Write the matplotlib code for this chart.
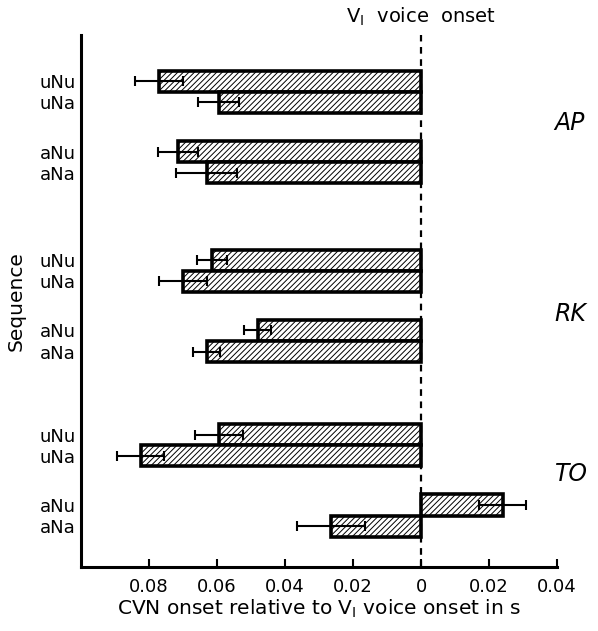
import matplotlib
matplotlib.use("Agg")
import matplotlib.pyplot as plt
import numpy as np

plt.rcParams['font.family'] = ['DejaVu Sans']
plt.rcParams['hatch.linewidth'] = 0.7

speakers = ["AP", "RK", "TO"]
sequences = ["uNu", "uNa", "aNu", "aNa"]
# CVN onset relative to V1 voice onset (s), per speaker, in sequence order
onset = {
    "AP": [-0.077, -0.0595, -0.0715, -0.063],
    "RK": [-0.0615, -0.070, -0.048, -0.063],
    "TO": [-0.0595, -0.0825, 0.024, -0.0265],
}
err = {
    "AP": [0.007, 0.006, 0.006, 0.009],
    "RK": [0.0045, 0.007, 0.004, 0.004],
    "TO": [0.007, 0.007, 0.007, 0.010],
}
xticks = [-0.08, -0.06, -0.04, -0.02, 0, 0.02, 0.04]
xticklabels = ["0.08", "0.06", "0.04", "0.02", "0", "0.02", "0.04"]

fig = plt.figure(figsize=(5.98, 6.31), dpi=100)
ax = fig.add_axes([0.1355, 0.1014, 0.796, 0.843])

group_start = [0.0, 8.5, 16.8]
label_offset = [2.0, 2.55, 1.87]
pair_offset = 3.35
bar_h = 1.0

ypos, ylabels = [], []
for gi, sp in enumerate(speakers):
    g0 = group_start[gi]
    ys = [g0, g0 + 1, g0 + pair_offset, g0 + pair_offset + 1]
    vals = onset[sp]
    ers = err[sp]
    ax.barh(ys, vals, height=bar_h, color="white", edgecolor="black",
            linewidth=2.6, hatch="//////", zorder=2)
    ax.errorbar(vals, ys, xerr=ers, fmt="none", ecolor="black",
                elinewidth=1.5, capsize=3.5, capthick=1.5, zorder=3)
    ypos += ys
    ylabels += sequences
    ax.text(0.995, g0 + label_offset[gi], sp, transform=ax.get_yaxis_transform(),
            fontsize=17, style="italic", ha="left", va="center")

ax.set_xlim(-0.1, 0.04)
ax.set_ylim(23.1, -2.2)
ax.axvline(0, color="black", linestyle=(0, (3, 2.5)), linewidth=1.6, zorder=4)

ax.set_xticks(xticks)
ax.set_xticklabels(xticklabels, fontsize=13)
ax.set_yticks(ypos)
ax.set_yticklabels(ylabels, fontsize=13)
ax.tick_params(axis="y", length=0, pad=4)
ax.tick_params(axis="x", direction="in", length=6, width=1.5, pad=8)

for s in ["top", "right"]:
    ax.spines[s].set_visible(False)
for s in ["left", "bottom"]:
    ax.spines[s].set_linewidth(2.2)

ax.set_xlabel("CVN onset relative to V$_{\\mathregular{I}}$ voice onset in s",
              fontsize=14.5, labelpad=1)
ax.set_ylabel("Sequence", fontsize=14.5, labelpad=10)
ax.text(0, 1.013, "V$_{\\mathregular{I}}$  voice  onset", transform=ax.get_xaxis_transform(),
        fontsize=14, ha="center", va="bottom")

fig.savefig("out.png", dpi=100)
